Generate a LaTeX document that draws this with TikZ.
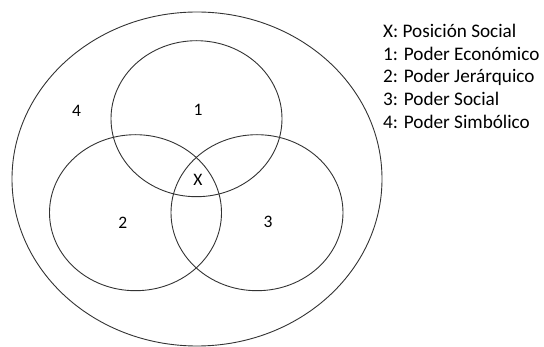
\documentclass[tikz,border=0pt]{standalone}
\usepackage{fontspec}
\setmainfont{Carlito}
\begin{document}
\begin{tikzpicture}[x=1pt,y=-1pt,
  ring/.style={draw=black!80,line width=0.9pt},
  lbl/.style={inner sep=0pt,anchor=base,font=\fontsize{17.5}{22}\selectfont},
  legend/.style={inner sep=0pt,anchor=base west,font=\fontsize{19.2}{23}\selectfont}]
\useasboundingbox (0,0) rectangle (544,347);
% outer set: symbolic power
\draw[ring] (197,179) ellipse [x radius=185pt,y radius=167pt];
% three overlapping sets
\draw[ring] (196.5,118.7) ellipse [x radius=85.5pt,y radius=78pt];
\draw[ring] (135.5,212.7) ellipse [x radius=86pt,y radius=78pt];
\draw[ring] (257,212.7) ellipse [x radius=86pt,y radius=78pt];
% region labels
\node[lbl] (n1) at (198,115.5) {1};
\node[lbl] (n2) at (122.7,228.2) {2};
\node[lbl] (n3) at (268,227.2) {3};
\node[lbl] (n4) at (76.5,116.5) {4};
\node[lbl] (nx) at (198,185.5) {X};
% legend
\node[legend] (kx) at (383,37.7) {X: Posición Social};
\node[legend] (k1) at (383,60.3) {1: Poder Económico};
\node[legend] (k2) at (383,82.9) {2: Poder Jerárquico};
\node[legend] (k3) at (383,105.5) {3: Poder Social};
\node[legend] (k4) at (383,128.1) {4: Poder Simbólico};
\end{tikzpicture}
\end{document}
